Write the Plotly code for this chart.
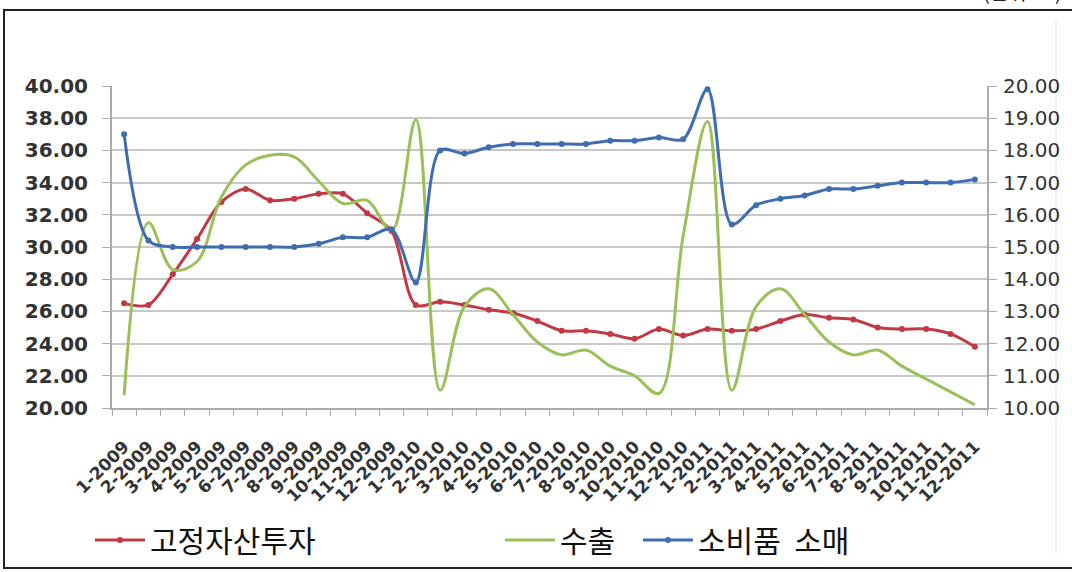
import plotly.graph_objects as go

# Month labels (month-year)
categories = [
    "1-2009", "2-2009", "3-2009", "4-2009", "5-2009", "6-2009",
    "7-2009", "8-2009", "9-2009", "10-2009", "11-2009", "12-2009",
    "1-2010", "2-2010", "3-2010", "4-2010", "5-2010", "6-2010",
    "7-2010", "8-2010", "9-2010", "10-2010", "11-2010", "12-2010",
    "1-2011", "2-2011", "3-2011", "4-2011", "5-2011", "6-2011",
    "7-2011", "8-2011", "9-2011", "10-2011", "11-2011", "12-2011",
]

# Fixed-asset investment growth (left axis)
fixed_asset = [26.5, 26.4, 28.3, 30.5, 32.8, 33.6, 32.9, 33.0, 33.3, 33.3, 32.1, 31.0,
               26.4, 26.6, 26.4, 26.1, 25.9, 25.4, 24.8, 24.8, 24.6, 24.3, 24.9, 24.5,
               24.9, 24.8, 24.9, 25.4, 25.8, 25.6, 25.5, 25.0, 24.9, 24.9, 24.6, 23.8]

# Exports growth (left axis)
exports = [20.8, 31.5, 28.6, 29.1, 33.1, 35.1, 35.7, 35.6, 34.1, 32.7, 32.9, 31.0,
           37.9, 21.1, 26.3, 27.4, 25.8, 24.1, 23.3, 23.6, 22.6, 22.0, 20.9, 30.7,
           37.8, 21.1, 26.3, 27.4, 25.8, 24.1, 23.3, 23.6, 22.6, 21.8, 21.0, 20.2]

# Retail sales of consumer goods growth (right axis)
retail = [18.5, 15.2, 15.0, 15.0, 15.0, 15.0, 15.0, 15.0, 15.1, 15.3, 15.3, 15.55,
          13.9, 18.0, 17.9, 18.1, 18.2, 18.2, 18.2, 18.2, 18.3, 18.3, 18.4, 18.35,
          19.9, 15.7, 16.3, 16.5, 16.6, 16.8, 16.8, 16.9, 17.0, 17.0, 17.0, 17.1]

left_ticks = [20, 22, 24, 26, 28, 30, 32, 34, 36, 38, 40]
right_ticks = [10, 11, 12, 13, 14, 15, 16, 17, 18, 19, 20]

W, H = 1072, 572
ML, MR, MT, MB = 112, 85, 86, 164
PW, PH = W - ML - MR, H - MT - MB


def px(x):
    return (x - ML) / PW


def py(y):
    return (H - MB - y) / PH


RED = "#c03a45"
GREEN = "#9cc059"
BLUE = "#3f6db0"
LEG_FONT = dict(family="Noto Sans CJK KR", size=30, color="#111111")

fig = go.Figure()
fig.add_trace(go.Scatter(
    x=categories, y=fixed_asset, name="고정자산투자", mode="lines+markers",
    line=dict(color=RED, width=3, shape="spline", smoothing=0.9),
    marker=dict(size=6, color=RED), legend="legend",
))
fig.add_trace(go.Scatter(
    x=categories, y=exports, name="수출", mode="lines",
    line=dict(color=GREEN, width=3, shape="spline", smoothing=1.0),
    legend="legend2",
))
fig.add_trace(go.Scatter(
    x=categories, y=retail, name="소비품  소매", mode="lines+markers",
    line=dict(color=BLUE, width=3, shape="spline", smoothing=0.9),
    marker=dict(size=6, color=BLUE), yaxis="y2", legend="legend3",
))

legend_common = dict(xref="container", yref="container", xanchor="left",
                     yanchor="middle", font=LEG_FONT, itemwidth=50,
                     bgcolor="rgba(0,0,0,0)")

fig.update_layout(
    width=W, height=H,
    margin=dict(l=ML, r=MR, t=MT, b=MB, autoexpand=False),
    paper_bgcolor="white", plot_bgcolor="white",
    showlegend=True,
    xaxis=dict(
        type="category", range=[-0.5, 35.5], tickangle=-45, automargin=False,
        tickson="boundaries", ticks="outside", ticklen=6, tickcolor="#aaaaaa",
        showline=True, linecolor="#aaaaaa", linewidth=2, showgrid=False,
        tickfont=dict(family="DejaVu Sans", size=17, color="#333333", weight="bold"),
        ticklabelstandoff=20,
    ),
    yaxis=dict(
        range=[20, 40], tickvals=left_ticks, tickformat=".2f", automargin=False,
        showgrid=True, gridcolor="#c8c8c8", gridwidth=2,
        ticks="outside", ticklen=8, tickcolor="#aaaaaa",
        showline=True, linecolor="#aaaaaa", linewidth=2, zeroline=False,
        tickfont=dict(family="DejaVu Sans", size=20, color="#333333", weight="bold"),
        ticklabelstandoff=10,
    ),
    yaxis2=dict(
        range=[10, 20], tickvals=right_ticks, tickformat=".2f", automargin=False,
        overlaying="y", side="right", showgrid=False,
        ticks="outside", ticklen=8, tickcolor="#aaaaaa",
        showline=True, linecolor="#aaaaaa", linewidth=2, zeroline=False,
        tickfont=dict(family="DejaVu Sans", size=20, color="#333333"),
        ticklabelstandoff=2,
    ),
    legend=dict(x=90 / W, y=1 - 540 / H, **legend_common),
    legend2=dict(x=500 / W, y=1 - 540 / H, **legend_common),
    legend3=dict(x=638 / W, y=1 - 540 / H, **legend_common),
    shapes=[
        # outer frame
        dict(type="rect", xref="paper", yref="paper",
             x0=px(4), x1=px(1078), y0=py(568), y1=py(10),
             line=dict(color="#222222", width=2), layer="below"),
        # faint inner border on the right
        dict(type="line", xref="paper", yref="paper",
             x0=px(1056), x1=px(1056), y0=py(555), y1=py(20),
             line=dict(color="#e2e2e2", width=1), layer="below"),
    ],
    annotations=[
        dict(text="(단위: %)", xref="paper", yref="paper",
             x=px(1064), y=py(8), xanchor="right", yanchor="bottom",
             showarrow=False,
             font=dict(family="Noto Sans CJK KR", size=20, color="#222222")),
    ],
)

fig.write_html("out.html")
